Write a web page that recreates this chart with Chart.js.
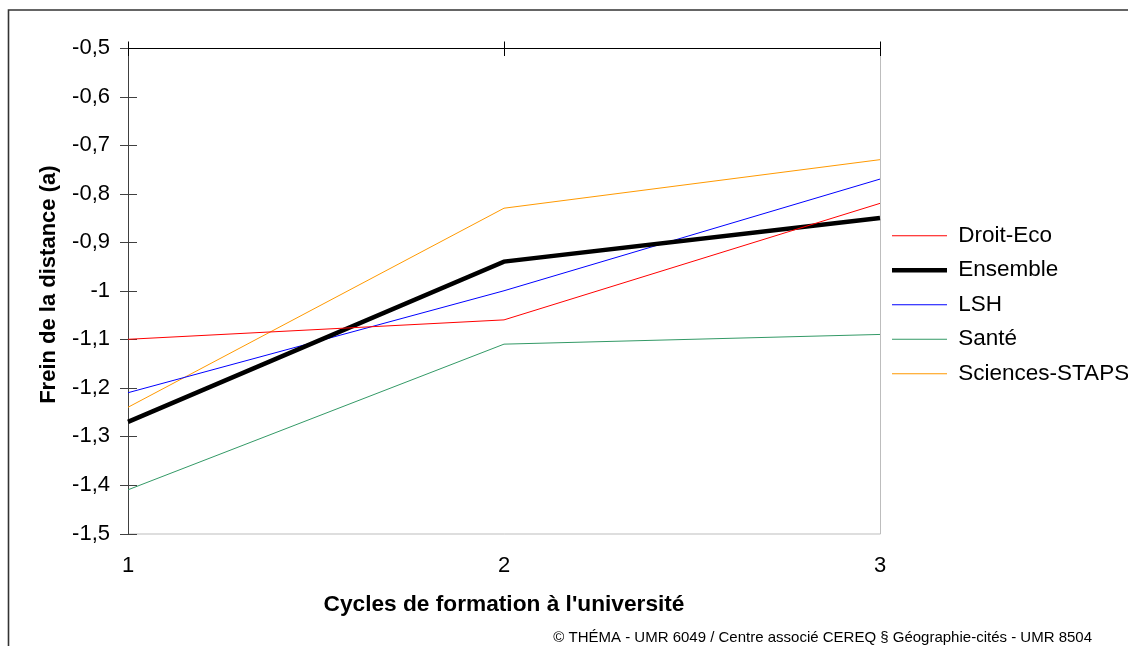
<!DOCTYPE html>
<html>
<head>
<meta charset="utf-8">
<script src="https://cdn.jsdelivr.net/npm/chart.js@4"></script>
<style>
  html, body { margin: 0; padding: 0; background: #fff; }
  #wrap { width: 1128px; height: 646px; position: relative; }
</style>
</head>
<body>
<div id="wrap"><canvas id="chart"></canvas></div>
<script>
// data
const cycles = ['1', '2', '3'];
const droitEco = [-1.10, -1.06, -0.82];
const ensemble = [-1.27, -0.94, -0.85];
const lsh = [-1.21, -1.00, -0.77];
const sante = [-1.41, -1.11, -1.09];
const sciences = [-1.24, -0.83, -0.73];
const yMin = -1.5, yMax = -0.5, yStep = 0.1;

const FONT = "'Liberation Sans', Arial, sans-serif";

function fmt(v) {
  return String(Number(v.toFixed(1))).replace('.', ',');
}

// frame, crossing tick marks and credit line
const framePlugin = {
  id: 'frame',
  beforeDatasetsDraw(chart) {
    const { ctx, chartArea: a, scales: { x, y } } = chart;
    ctx.save();
    ctx.lineWidth = 1;
    // right + bottom plot border
    ctx.strokeStyle = '#bdbdbd';
    ctx.beginPath();
    ctx.moveTo(a.right + 0.5, a.top);
    ctx.lineTo(a.right + 0.5, a.bottom + 0.5);
    ctx.lineTo(a.left, a.bottom + 0.5);
    ctx.stroke();
    // left value axis
    ctx.strokeStyle = '#404040';
    ctx.beginPath();
    ctx.moveTo(a.left + 0.5, a.top);
    ctx.lineTo(a.left + 0.5, a.bottom + 0.5);
    y.ticks.forEach(t => {
      const py = Math.round(y.getPixelForValue(t.value)) + 0.5;
      ctx.moveTo(a.left - 8, py);
      ctx.lineTo(a.left + 9, py);
    });
    ctx.stroke();
    // top category axis
    ctx.strokeStyle = '#000';
    ctx.beginPath();
    ctx.moveTo(a.left, a.top + 0.5);
    ctx.lineTo(a.right + 1, a.top + 0.5);
    cycles.forEach((c, i) => {
      const px = Math.round(x.getPixelForValue(i)) + 0.5;
      ctx.moveTo(px, a.top - 6.5);
      ctx.lineTo(px, a.top + 8);
    });
    ctx.stroke();
    ctx.restore();
  },
  afterDraw(chart) {
    const { ctx } = chart;
    ctx.save();
    // outer frame
    ctx.strokeStyle = '#333';
    ctx.lineWidth = 1.6;
    ctx.beginPath();
    ctx.moveTo(8.5, 646);
    ctx.lineTo(8.5, 10);
    ctx.lineTo(1128, 10);
    ctx.stroke();
    // credit
    ctx.fillStyle = '#000';
    ctx.font = '15px ' + FONT;
    ctx.textAlign = 'right';
    ctx.textBaseline = 'middle';
    ctx.fillText('© THÉMA - UMR 6049 / Centre associé CEREQ § Géographie-cités - UMR 8504', 1092, 638);
    ctx.restore();
  }
};

function series(label, data, color, width) {
  return {
    label, data,
    borderColor: color,
    backgroundColor: color,
    borderWidth: width,
    pointRadius: 0,
    pointHoverRadius: 0,
    tension: 0,
    fill: false,
    pointStyle: 'line'
  };
}

new Chart(document.getElementById('chart'), {
  type: 'line',
  data: {
    labels: cycles,
    datasets: [
      series('Droit-Eco', droitEco, '#ff0000', 1),
      series('Ensemble', ensemble, '#000000', 4.5),
      series('LSH', lsh, '#0000ff', 1),
      series('Santé', sante, '#339966', 1),
      series('Sciences-STAPS', sciences, '#ff9900', 1)
    ]
  },
  options: {
    responsive: true,
    maintainAspectRatio: false,
    animation: false,
    layout: { padding: { top: 48, left: 0, right: 0, bottom: 0 } },
    plugins: {
      tooltip: { enabled: false },
      legend: {
        position: 'right',
        fullSize: false,
        maxWidth: 248,
        title: { display: true, text: '', font: { size: 10 }, padding: { top: 0, bottom: 16 } },
        labels: {
          usePointStyle: true,
          pointStyleWidth: 55,
          padding: 12,
          color: '#000',
          font: { family: FONT, size: 22.5 }
        }
      }
    },
    scales: {
      x: {
        type: 'category',
        offset: false,
        grid: { display: false, drawTicks: false },
        border: { display: false },
        ticks: { color: '#000', padding: 19, maxRotation: 0, font: { family: FONT, size: 22 } },
        title: {
          display: true,
          text: "Cycles de formation à l'université",
          color: '#000',
          font: { family: FONT, size: 22.7, weight: 'bold' },
          padding: { top: 0, bottom: 28 }
        },
        afterFit(s) { s.height = 112.5; }
      },
      y: {
        min: yMin,
        max: yMax,
        grid: { display: false, drawTicks: false },
        border: { display: false },
        ticks: {
          stepSize: yStep,
          color: '#000',
          padding: 18,
          font: { family: FONT, size: 22 },
          callback: v => fmt(v)
        },
        title: {
          display: true,
          text: '  Frein de la distance (a)',
          color: '#000',
          font: { family: FONT, size: 22, weight: 'bold' },
          padding: { top: 36, bottom: 0 }
        },
        afterFit(s) { s.width = 128; }
      }
    }
  },
  plugins: [framePlugin]
});
</script>
</body>
</html>
